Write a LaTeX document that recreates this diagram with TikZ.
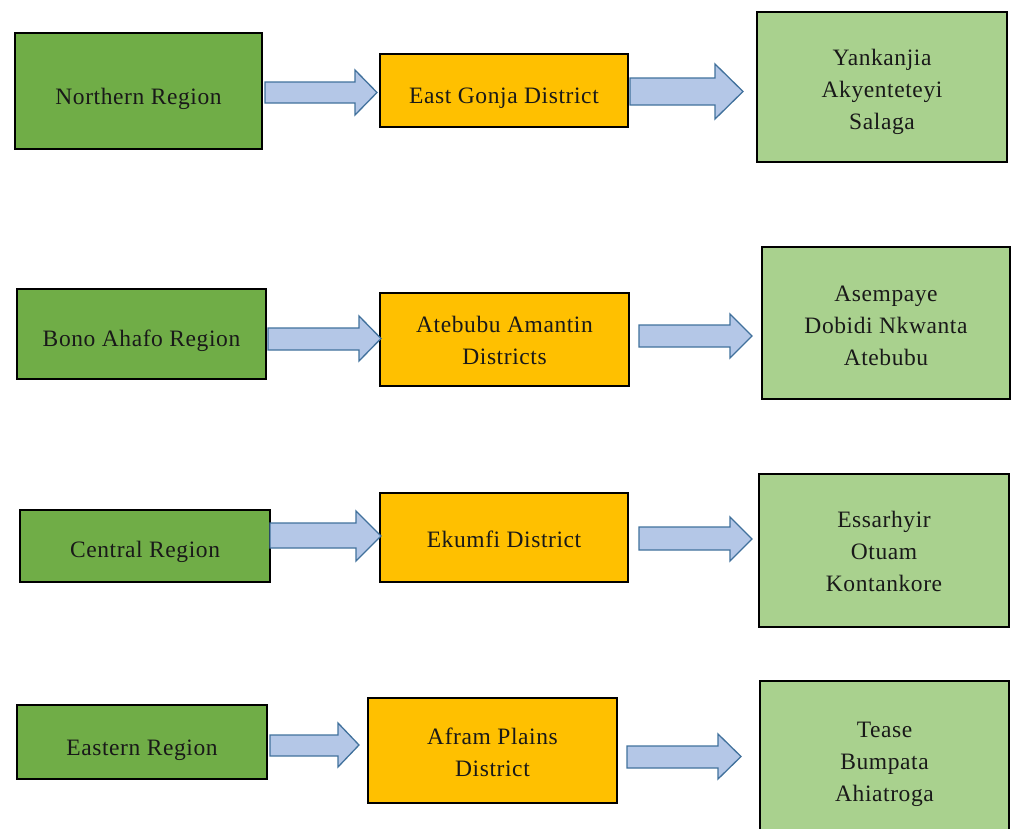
\documentclass[tikz,border=0pt]{standalone}
\usepackage{fontspec}
\setmainfont{Liberation Serif}[LetterSpace=2.5]
\definecolor{dkgreen}{HTML}{70AD47}
\definecolor{gold}{HTML}{FFC000}
\definecolor{ltgreen}{HTML}{A9D18E}
\definecolor{arrfill}{HTML}{B4C7E7}
\definecolor{arrline}{HTML}{41719C}
\newcommand{\blkarrow}[7]{%
  \draw[blkarr] (#1,#4) -- (#2,#4) -- (#2,#6) -- (#3,{(#6+#7)/2}) -- (#2,#7) -- (#2,#5) -- (#1,#5) -- cycle;}
\newcommand{\lowtxt}[2][4]{\raisebox{-#1pt}[\height][\depth]{\begin{tabular}{@{}c@{}}#2\end{tabular}}}
\begin{document}
\begin{tikzpicture}[x=1pt,y=-1pt,
  box/.style={draw=black, line width=1.4pt, inner sep=0pt, align=center,
    font=\fontsize{23.5}{32}\selectfont, text=black!90},
  region/.style={box, fill=dkgreen},
  district/.style={box, fill=gold},
  towns/.style={box, fill=ltgreen},
  blkarr/.style={fill=arrfill, draw=arrline, line width=1.3pt, line join=miter}]
\useasboundingbox (0,0) rectangle (1011,828);
\clip (0,0) rectangle (1011,828);
% Row 1
\node[region, minimum width=247pt, minimum height=116pt] (r1) at (138.5,91) {\lowtxt[7]{Northern Region}};
\node[district, minimum width=248pt, minimum height=73pt] (d1) at (504,90.5) {\lowtxt[7]{East Gonja District}};
\node[towns, minimum width=250pt, minimum height=150pt] (t1) at (882,87) {\lowtxt[4]{Yankanjia\\Akyenteteyi\\Salaga}};
\blkarrow{265}{355}{377}{82}{103}{70}{115}
\blkarrow{630}{715}{743}{78}{105}{64}{119}
% Row 2
\node[region, minimum width=249pt, minimum height=90pt] (r2) at (141.5,334) {\lowtxt[6]{Bono Ahafo Region}};
\node[district, minimum width=249pt, minimum height=93pt] (d2) at (504.5,339.5) {\lowtxt[3]{Atebubu Amantin\\Districts}};
\node[towns, minimum width=248pt, minimum height=152pt] (t2) at (886,323) {\lowtxt[4]{Asempaye\\Dobidi Nkwanta\\Atebubu}};
\blkarrow{268}{359}{381}{328}{350}{316}{361}
\blkarrow{639}{730}{752}{325}{347}{314}{358}
% Row 3
\node[region, minimum width=250pt, minimum height=72pt] (r3) at (145,546) {\lowtxt[5]{Central Region}};
\node[district, minimum width=248pt, minimum height=89pt] (d3) at (504,537.5) {\lowtxt[4]{Ekumfi District}};
\node[towns, minimum width=250pt, minimum height=153pt] (t3) at (884,550.5) {\lowtxt[3]{Essarhyir\\Otuam\\Kontankore}};
\blkarrow{270}{356}{381}{523}{548}{511}{561}
\blkarrow{639}{730}{752}{527}{550}{517}{561}
% Row 4
\node[region, minimum width=250pt, minimum height=74pt] (r4) at (142,742) {\lowtxt[7]{Eastern Region}};
\node[district, minimum width=249pt, minimum height=105pt] (d4) at (492.5,750.5) {\lowtxt[4]{Afram Plains\\District}};
\node[towns, minimum width=249pt, minimum height=158pt] (t4) at (884.5,760) {\lowtxt[3]{Tease\\Bumpata\\Ahiatroga}};
\blkarrow{270}{338}{359}{735}{756}{723}{767}
\blkarrow{627}{718}{741}{746}{768}{734}{779}
\end{tikzpicture}
\end{document}
